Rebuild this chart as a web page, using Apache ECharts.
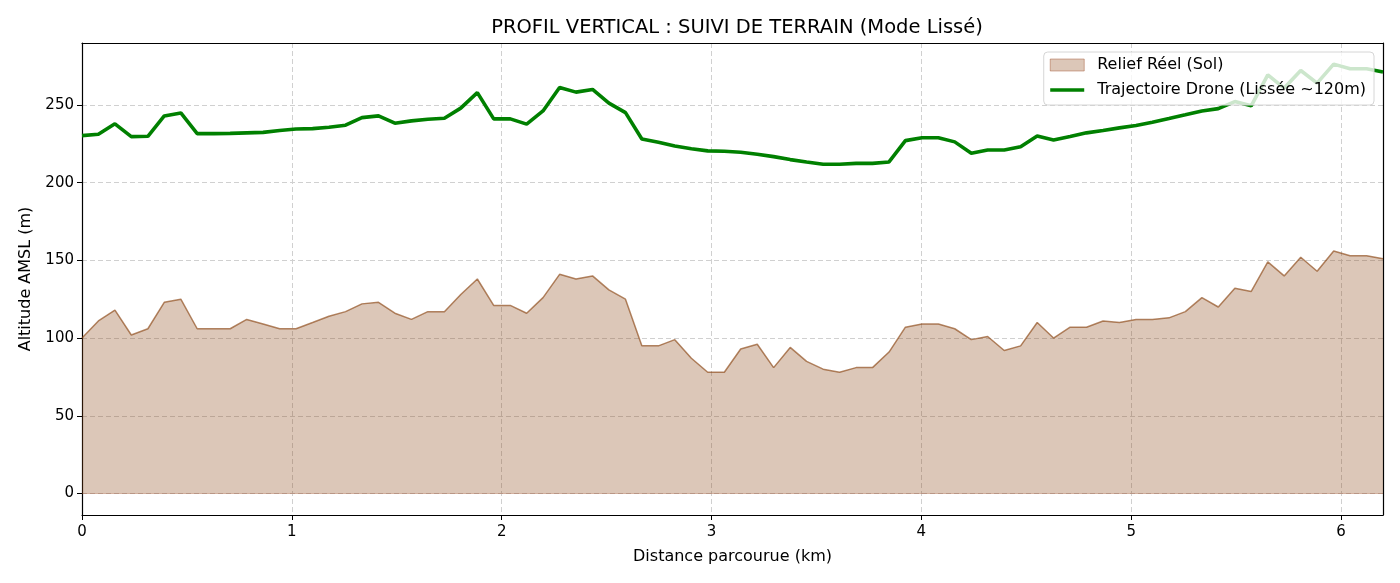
<!DOCTYPE html>
<html style="height: 100%">
<head>
<meta charset="utf-8" />
<title>Profil vertical</title>
<script src="https://cdn.jsdelivr.net/npm/echarts@6/dist/echarts.min.js"></script>
</head>
<body style="height: 100%; margin: 0; background: #fff">
<div id="container" style="width: 1400px; height: 583px"></div>
<script type="text/javascript">
// distance along the track (km)
const distance = [
  0.000, 0.078, 0.157, 0.235, 0.314, 0.392, 0.471, 0.549, 0.628, 0.706,
  0.785, 0.863, 0.942, 1.020, 1.099, 1.177, 1.256, 1.334, 1.413, 1.491,
  1.570, 1.648, 1.727, 1.805, 1.884, 1.962, 2.041, 2.119, 2.197, 2.276,
  2.354, 2.433, 2.511, 2.590, 2.668, 2.747, 2.825, 2.904, 2.982, 3.061,
  3.139, 3.218, 3.296, 3.375, 3.453, 3.532, 3.610, 3.689, 3.767, 3.846,
  3.924, 4.003, 4.081, 4.159, 4.238, 4.316, 4.395, 4.473, 4.552, 4.630,
  4.709, 4.787, 4.866, 4.944, 5.023, 5.101, 5.180, 5.258, 5.337, 5.415,
  5.494, 5.572, 5.651, 5.729, 5.808, 5.886, 5.965, 6.043, 6.122, 6.200
];

// ground altitude (m)
const relief = [
  100, 111, 118, 102, 106, 123, 125, 106, 106, 106,
  112, 109, 106, 106, 110, 114, 117, 122, 123, 116,
  112, 117, 117, 128, 138, 121, 121, 116, 126, 141,
  138, 140, 131, 125, 95, 95, 99, 87, 78, 78,
  93, 96, 81, 94, 85, 80, 78, 81, 81, 91,
  107, 109, 109, 106, 99, 101, 92, 95, 110, 100,
  107, 107, 111, 110, 112, 112, 113, 117, 126, 120,
  132, 130, 149, 140, 152, 143, 156, 153, 153, 151
];

// smoothed drone altitude (m)
const drone = [
  230.2, 231.1, 237.8, 229.6, 229.8, 242.9, 244.8, 231.5, 231.5, 231.7,
  232.0, 232.3, 233.5, 234.5, 234.7, 235.6, 236.9, 241.8, 242.9, 238.2,
  239.7, 240.8, 241.4, 247.9, 257.9, 241.0, 241.0, 237.6, 246.1, 261.2,
  258.2, 259.9, 251.1, 245.0, 228.1, 226.0, 223.6, 221.8, 220.4, 220.2,
  219.5, 218.2, 216.7, 214.8, 213.3, 211.8, 211.8, 212.4, 212.4, 213.3,
  227.0, 228.9, 228.9, 226.2, 218.9, 221.0, 221.0, 223.1, 230.0, 227.4,
  229.6, 232.0, 233.5, 235.2, 236.7, 238.8, 241.2, 243.6, 246.1, 247.6,
  252.1, 249.4, 269.3, 260.8, 272.1, 264.0, 276.2, 273.2, 273.2, 271.1
];

const seriesNames = ["Relief Réel (Sol)", "Trajectoire Drone (Lissée ~120m)"];

const FONT = "DejaVu Sans";
const gridLine = { show: true, lineStyle: { color: "#d0d0d0", type: [5, 3], width: 1 } };
// plain black frame lines for the top and right sides
const frameAxis = {
  axisLine: { show: true, onZero: false, lineStyle: { color: "#000", width: 1.2 } },
  axisTick: { show: false }, axisLabel: { show: false }, splitLine: { show: false }
};

let chart = echarts.init(document.getElementById("container"), null, { renderer: "canvas" });
chart.setOption({
  backgroundColor: "#fff",
  animation: false,
  textStyle: { fontFamily: FONT },
  title: {
    text: "PROFIL VERTICAL : SUIVI DE TERRAIN (Mode Lissé)",
    left: 732,
    textAlign: "center",
    top: 13,
    textStyle: { fontFamily: FONT, fontSize: 19.5, fontWeight: "normal", color: "#000" }
  },
  legend: {
    right: 26,
    top: 52,
    orient: "vertical",
    itemGap: 7,
    itemWidth: 34,
    itemHeight: 12,
    padding: [4, 8, 6, 6],
    backgroundColor: "rgba(255,255,255,0.8)",
    borderColor: "#d6d6d6",
    borderWidth: 1,
    borderRadius: 4,
    textStyle: { fontFamily: FONT, fontSize: 16, lineHeight: 18, color: "#000", padding: [0, 0, 0, 8] },
    data: [
      { name: seriesNames[0], icon: "rect",
        itemStyle: { color: "rgba(139,69,19,0.3)", borderColor: "rgba(160,82,45,0.45)", borderWidth: 1 } },
      { name: seriesNames[1], icon: "path://M0,0 L40,0 L40,4 L0,4 Z",
        itemStyle: { color: "#008000" } }
    ]
  },
  grid: { left: 82, right: 17, top: 43, bottom: 68 },
  xAxis: [
    {
      type: "value",
      min: 0,
      max: 6.2,
      interval: 1,
      name: "Distance parcourue (km)",
      nameLocation: "middle",
      nameGap: 34,
      nameTextStyle: { fontFamily: FONT, fontSize: 16, color: "#000" },
      axisLine: { show: true, onZero: false, lineStyle: { color: "#000", width: 1.2 } },
      axisTick: { show: true, length: 5, lineStyle: { color: "#000" } },
      axisLabel: { fontFamily: FONT, fontSize: 15, color: "#000", margin: 10, showMaxLabel: false },
      splitLine: gridLine
    },
    Object.assign({ type: "value", position: "top", min: 0, max: 6.2 }, frameAxis)
  ],
  yAxis: [
    {
      type: "value",
      min: -13.8,
      max: 289.8,
      splitNumber: 6,
      name: "Altitude AMSL (m)",
      nameLocation: "middle",
      nameGap: 48,
      nameTextStyle: { fontFamily: FONT, fontSize: 16, color: "#000" },
      axisLine: { show: true, onZero: false, lineStyle: { color: "#000", width: 1.2 } },
      axisTick: { show: true, length: 5, lineStyle: { color: "#000" } },
      axisLabel: { fontFamily: FONT, fontSize: 15, color: "#000", margin: 8,
                   showMinLabel: false, showMaxLabel: false },
      splitLine: gridLine
    },
    Object.assign({ type: "value", position: "right", min: -13.8, max: 289.8 }, frameAxis)
  ],
  series: [
    {
      name: seriesNames[0],
      type: "line",
      data: distance.map((d, i) => [d, relief[i]]),
      showSymbol: false,
      z: 2,
      lineStyle: { color: "rgba(139,69,19,0.65)", width: 1.5 },
      itemStyle: { color: "rgba(139,69,19,0.3)" },
      areaStyle: { color: "rgba(139,69,19,0.3)", opacity: 1, origin: 0 },
      markLine: {
        silent: true, symbol: "none", label: { show: false },
        lineStyle: { color: "rgba(160,82,45,0.35)", type: "solid", width: 1 },
        data: [{ yAxis: 0 }]
      }
    },
    {
      name: seriesNames[1],
      type: "line",
      data: distance.map((d, i) => [d, drone[i]]),
      showSymbol: false,
      z: 3,
      lineStyle: { color: "#008000", width: 3.6 },
      itemStyle: { color: "#008000" }
    }
  ]
});
</script>
</body>
</html>
